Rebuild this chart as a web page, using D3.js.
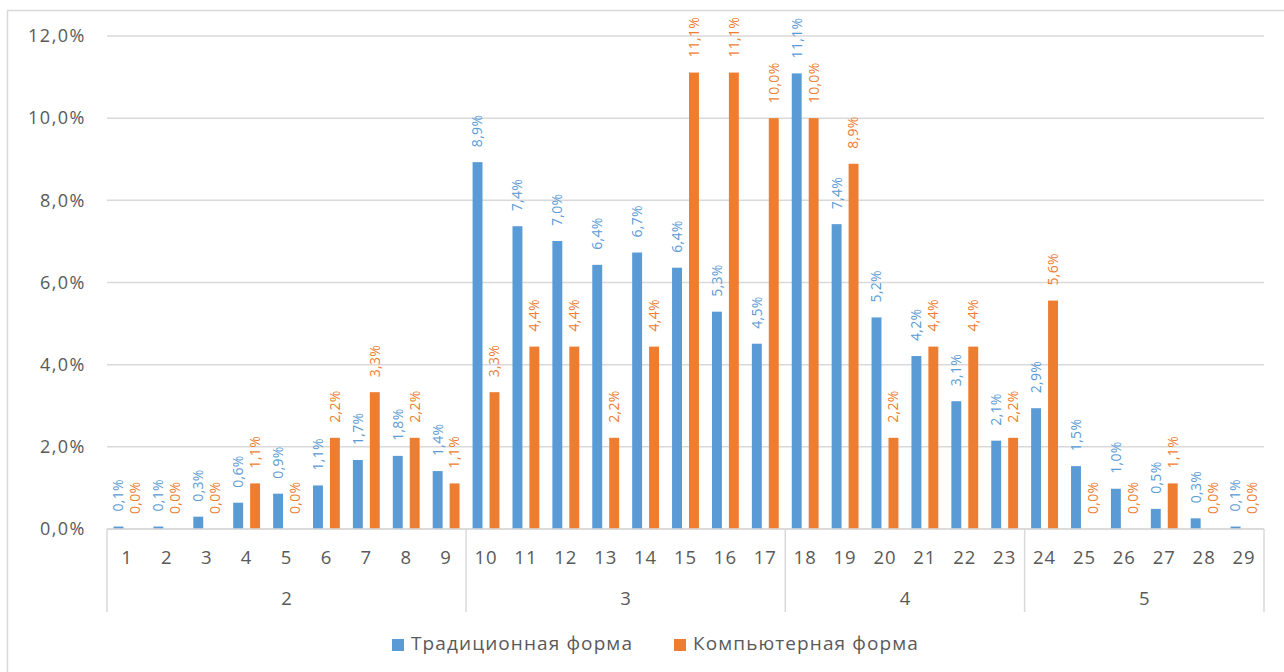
<!DOCTYPE html>
<html>
<head>
<meta charset="utf-8">
<script src="https://cdn.jsdelivr.net/npm/d3@7"></script>
<style>
html,body{margin:0;padding:0;background:#fff;}
svg{display:block;}
text{font-family:"Open Sans","Noto Sans",sans-serif;}
</style>
</head>
<body>
<svg id="chart" width="1284" height="672"></svg>
<script>
const categories = ["1","2","3","4","5","6","7","8","9","10","11","12","13","14","15","16","17","18","19","20","21","22","23","24","25","26","27","28","29"];
const groups = [
  {label:"2", from:"1", to:"9"},
  {label:"3", from:"10", to:"17"},
  {label:"4", from:"18", to:"23"},
  {label:"5", from:"24", to:"29"}
];
const seriesNames = ["Традиционная форма","Компьютерная форма"];
const traditional = [0.06,0.06,0.30,0.64,0.86,1.06,1.68,1.78,1.41,8.93,7.37,7.01,6.43,6.73,6.36,5.29,4.51,11.09,7.42,5.15,4.21,3.11,2.15,2.94,1.53,0.98,0.49,0.26,0.06];
const computer = [0,0,0,1.11,0,2.22,3.33,2.22,1.11,3.33,4.44,4.44,2.22,4.44,11.11,11.11,10.00,10.00,8.89,2.22,4.44,4.44,2.22,5.56,0,0,1.11,0,0];
const yTicks = [0,2,4,6,8,10,12];
const colors = ["#5b9bd5","#ed7d31"];

(function(){
const svg = d3.select("#chart");
const pLeft = 107, pRight = 1264, pTop = 36, pBottom = 529;

// outer frame
svg.append("rect").attr("x",7.5).attr("y",10.5).attr("width",1300).attr("height",700)
  .attr("fill","none").attr("stroke","#d9d9d9").attr("stroke-width",1.5);

const x = d3.scaleBand().domain(categories).range([pLeft,pRight]).padding(0);
const xs = d3.scaleBand().domain([0,1]).range([0,x.bandwidth()]).paddingInner(0.414).paddingOuter(0.385);
const y = d3.scaleLinear().domain([0,12]).range([pBottom,pTop]);

// gridlines
svg.append("g").selectAll("line").data(yTicks).join("line")
  .attr("x1",pLeft).attr("x2",pRight)
  .attr("y1",d=>y(d)).attr("y2",d=>y(d))
  .attr("stroke","#d9d9d9").attr("stroke-width",1.5);

// y labels
const fmtPct = d3.format(".1f");
svg.append("g").selectAll("text").data(yTicks).join("text")
  .attr("x",86).attr("y",d=>y(d)).attr("dy","0.35em")
  .attr("text-anchor","end").attr("font-size",18).attr("letter-spacing",1.5).attr("fill","#595959")
  .text(d=>fmtPct(d).replace(".",",")+"%");

// bars
const series = [traditional, computer];
series.forEach((vals,si)=>{
  const g = svg.append("g");
  g.selectAll("rect").data(vals).join("rect")
    .attr("x",(d,i)=>x(categories[i])+xs(si))
    .attr("width",xs.bandwidth())
    .attr("y",d=>y(d))
    .attr("height",d=>y(0)-y(d))
    .attr("fill",colors[si]);
  g.selectAll("text").data(vals).join("text")
    .attr("transform",(d,i)=>`translate(${x(categories[i])+xs(si)+xs.bandwidth()/2},${y(d)-15}) rotate(-90)`)
    .attr("dy","0.35em")
    .attr("text-anchor","start").attr("font-size",14).attr("letter-spacing",0.3).attr("fill",colors[si])
    .text(d=>fmtPct(d).replace(".",",")+"%");
});

// category axis line
svg.append("line").attr("x1",pLeft).attr("x2",pRight).attr("y1",pBottom).attr("y2",pBottom)
  .attr("stroke","#d9d9d9").attr("stroke-width",1.5);

// category labels
svg.append("g").selectAll("text").data(categories).join("text")
  .attr("x",d=>x(d)+x.bandwidth()/2).attr("y",564)
  .attr("text-anchor","middle").attr("font-size",18.5).attr("letter-spacing",1).attr("fill","#595959")
  .text(d=>d);

// group separators and labels
const bounds = [pLeft].concat(groups.map(g=>x(g.to)+x.bandwidth()));
svg.append("g").selectAll("line").data(bounds).join("line")
  .attr("x1",d=>d).attr("x2",d=>d).attr("y1",pBottom).attr("y2",612)
  .attr("stroke","#d9d9d9").attr("stroke-width",1.5);
svg.append("g").selectAll("text").data(groups).join("text")
  .attr("x",g=>(x(g.from)+x(g.to)+x.bandwidth())/2).attr("y",605)
  .attr("text-anchor","middle").attr("font-size",18.5).attr("fill","#595959")
  .text(g=>g.label);

// legend
const legendX = [392, 674];
seriesNames.forEach((name,i)=>{
  svg.append("rect").attr("x",legendX[i]).attr("y",639).attr("width",12).attr("height",12).attr("fill",colors[i]);
  svg.append("text").attr("x",legendX[i]+19).attr("y",650)
    .attr("font-size",19).attr("letter-spacing",1.1).attr("fill","#595959").text(name);
});
})();
</script>
</body>
</html>
